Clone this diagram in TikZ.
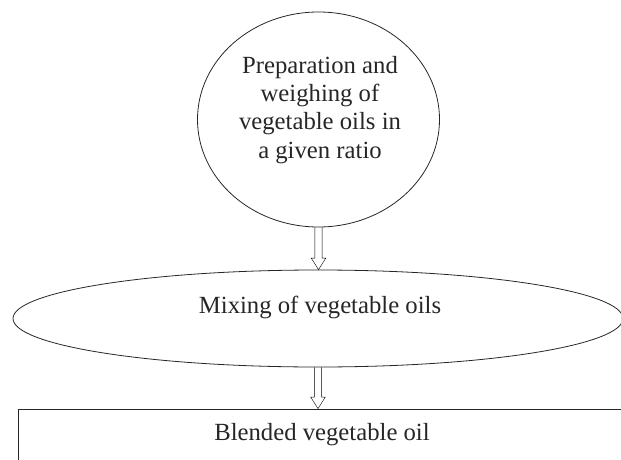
\documentclass[tikz,border=0pt]{standalone}
\usepackage{fontspec}
\setmainfont{Liberation Serif}
\usepackage{tikz}
\usetikzlibrary{shapes,positioning,calc}

\tikzset{
  oval/.style={draw=black!85, line width=0.8pt, ellipse, inner sep=0pt},
  boxstage/.style={draw=black!85, line width=0.8pt, rectangle, inner sep=0pt},
  stagetext/.style={align=center, inner sep=0pt, font=\fontsize{24.7}{28.3}\selectfont, text=black!85},
  blockarrow/.style={draw=black!85, line width=0.8pt, to path={
    let \p1=(\tikztostart), \p2=(\tikztotarget) in
    (\x1-3.6pt,\y1) -- (\x1-3.6pt,\y2+11.5pt) -- (\x1-7.3pt,\y2+11.5pt) -- (\x1,\y2)
    -- (\x1+7.3pt,\y2+11.5pt) -- (\x1+3.6pt,\y2+11.5pt) -- (\x1+3.6pt,\y1)}}
}

\begin{document}
\begin{tikzpicture}[x=1pt,y=1pt]
        \useasboundingbox (0,0) rectangle (621,-460);
        \clip (0,0) rectangle (621,-460);

        % Preparation stage
        \node[oval, minimum width=242pt, minimum height=215pt] (prep) at (318.5,-119.5) {};
        \node[stagetext] (preptext) at (320,-109.7) {Preparation and\\weighing of\\vegetable oils in\\a given ratio};

        % Mixing stage
        \node[oval, minimum width=610pt, minimum height=97pt] (mix) at (318,-318.5) {};
        \node[stagetext] (mixtext) at (320,-307.2) {Mixing of vegetable oils};

        % Final product
        \node[boxstage, minimum width=612pt, minimum height=70pt] (blend) at (324,-444) {};
        \node[stagetext] (blendtext) at (322,-434.2) {Blended vegetable oil};

        % Arrows
        \draw (prep.south) to[blockarrow] (mix.north);
        \draw (mix.south) to[blockarrow] (blend.north);
    \end{tikzpicture}
\end{document}
